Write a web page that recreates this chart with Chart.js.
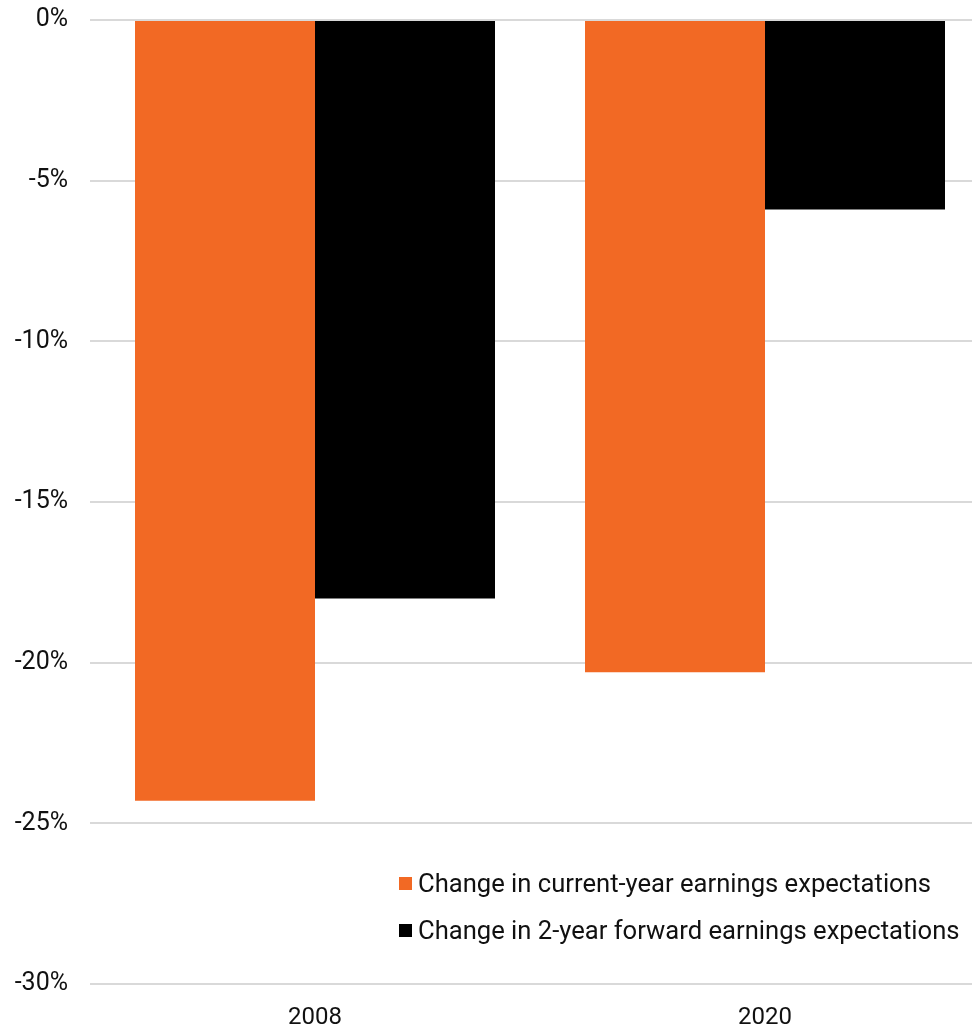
<!DOCTYPE html>
<html>
<head>
<meta charset="utf-8">
<script src="https://cdn.jsdelivr.net/npm/chart.js@4"></script>
<style>
    html, body { margin: 0; padding: 0; background: #fff; overflow: hidden; }
    #wrap { position: relative; width: 990px; height: 1028px; }
    #legend { position: absolute; left: 399px; top: 868px; font-family: Roboto, sans-serif; font-size: 25.6px; color: #111; }
    #legend div { height: 47px; line-height: 30px; white-space: nowrap; }
    #legend span { display: inline-block; width: 13px; height: 13px; margin-right: 6px; vertical-align: 2px; }
</style>
</head>
<body>
<div id="wrap">
    <canvas id="earningsChart"></canvas>
    <div id="legend"></div>
</div>
<script>
// chart data
var years = ["2008", "2020"]
var currentYear = [-24.3, -20.3]
var twoYearForward = [-18.0, -5.9]
var seriesNames = ["Change in current-year earnings expectations", "Change in 2-year forward earnings expectations"]
var barColors = ["#F26924", "#000000"]

var ctx = document.getElementById("earningsChart")
ctx.width = 990
ctx.height = 1028

new Chart(ctx, {
    type: "bar",
    data: {
        labels: years,
        datasets: [{
            label: seriesNames[0],
            backgroundColor: barColors[0],
            data: currentYear
        }, {
            label: seriesNames[1],
            backgroundColor: barColors[1],
            data: twoYearForward
        }]
    },
    options: {
        responsive: false,
        animation: false,
        layout: { padding: { top: 20, right: 0, left: 0, bottom: 0 } },
        datasets: { bar: { barPercentage: 1, categoryPercentage: 0.8 } },
        plugins: {
            legend: { display: false },
            tooltip: { enabled: false }
        },
        scales: {
            x: {
                grid: { display: false },
                border: { display: false },
                ticks: { color: "#111", padding: 12, font: { family: "Roboto", size: 24 } },
                afterFit: function (scale) { scale.height = 44 }
            },
            y: {
                min: -30,
                max: 0,
                border: { display: false },
                grid: { color: "#d9d9d9", lineWidth: 2, drawTicks: false },
                ticks: {
                    stepSize: 5,
                    color: "#111",
                    padding: 22,
                    font: { family: "Roboto", size: 25 },
                    callback: function (v) { return v + "%" }
                },
                afterFit: function (scale) {
                    scale.width = 90
                    // let the layout padding decide top/bottom
                    scale.paddingTop = 0
                    scale.paddingBottom = 0
                }
            }
        }
    }
})

// legend drawn as html inside the plot area
var legend = document.getElementById("legend")
seriesNames.forEach(function (name, i) {
    var row = document.createElement("div")
    var box = document.createElement("span")
    box.style.background = barColors[i]
    row.appendChild(box)
    row.appendChild(document.createTextNode(name))
    legend.appendChild(row)
})
</script>
</body>
</html>
